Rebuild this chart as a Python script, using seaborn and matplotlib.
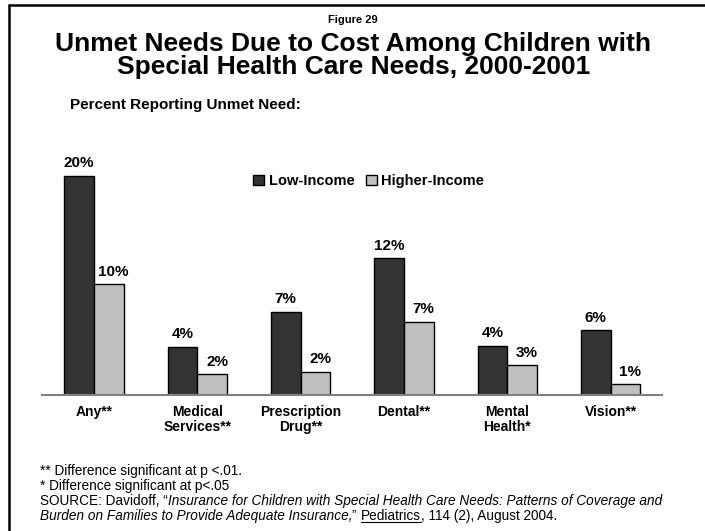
import pandas as pd
import seaborn as sns
import matplotlib.pyplot as plt
from matplotlib.lines import Line2D

# values; labels are what the chart prints
categories = ["Any**", "Medical\nServices**", "Prescription\nDrug**", "Dental**", "Mental\nHealth*", "Vision**"]
low_income = [20.0, 4.4, 7.6, 12.5, 4.5, 5.9]
higher_income = [10.1, 1.9, 2.1, 6.7, 2.7, 1.0]
low_labels = ["20%", "4%", "7%", "12%", "4%", "6%"]
higher_labels = ["10%", "2%", "2%", "7%", "3%", "1%"]
groups = ["Low-Income", "Higher-Income"]

df = pd.DataFrame({
    "category": categories * 2,
    "value": low_income + higher_income,
    "group": [groups[0]] * len(categories) + [groups[1]] * len(categories),
})

sns.set_style("white")
plt.rcParams["font.family"] = ["Liberation Sans", "DejaVu Sans"]
plt.rcParams["text.color"] = "black"
plt.rcParams["xtick.color"] = "black"
plt.rcParams["xtick.labelcolor"] = "black"

fig = plt.figure(figsize=(7.05, 5.31), dpi=100)
ax = fig.add_axes([0.060, 0.2561, 0.8794, 0.4537])

sns.barplot(data=df, x="category", y="value", hue="group",
            palette=["#333333", "#C0C0C0"], width=0.575,
            edgecolor="black", linewidth=1, ax=ax, legend=True)

ax.set_xlim(-0.5, len(categories) - 0.5)
ax.set_ylim(0, 22)
ax.set_xlabel("")
ax.set_ylabel("")
ax.set_yticks([])
for s in ["top", "right", "left"]:
    ax.spines[s].set_visible(False)
ax.spines["bottom"].set_color("#808080")
ax.spines["bottom"].set_linewidth(1.5)
ax.tick_params(axis="x", length=0, pad=7)
for t in ax.get_xticklabels():
    t.set_fontweight("bold")
    t.set_fontsize(10)
    t.set_color("black")
    t.set_linespacing(1.1)

# value labels
for cont, labels, dx in zip(ax.containers, [low_labels, higher_labels], [0, 3.5]):
    for bar, lab in zip(cont, labels):
        ax.annotate(lab, (bar.get_x() + bar.get_width() / 2, bar.get_height()),
                    xytext=(dx, 4), textcoords="offset points",
                    ha="center", va="bottom", fontsize=11, fontweight="bold")

# legend
handles, _ = ax.get_legend_handles_labels()
ax.get_legend().remove()
fig.legend(handles, groups, loc="center", bbox_to_anchor=(0.523, 0.659),
           ncol=2, frameon=False, handlelength=0.75, handleheight=0.75,
           handletextpad=0.3, columnspacing=0.8,
           prop={"weight": "bold", "size": 10.5})

# titles
fig.text(0.501, 1 - 23 / 531, "Figure 29", ha="center", va="baseline",
         fontsize=8, fontweight="bold")
fig.text(0.501, 1 - 50.7 / 531, "Unmet Needs Due to Cost Among Children with",
         ha="center", va="baseline", fontsize=19, fontweight="bold")
fig.text(0.501, 1 - 74 / 531, "Special Health Care Needs, 2000-2001",
         ha="center", va="baseline", fontsize=19, fontweight="bold")
fig.text(70 / 705, 1 - 109.3 / 531, "Percent Reporting Unmet Need:",
         ha="left", va="baseline", fontsize=11, fontweight="bold")

# footnotes
fs = 9.8
x0 = 40 / 705
fig.text(x0, 1 - 475 / 531, "** Difference significant at p <.01.", fontsize=fs, va="baseline")
fig.text(x0, 1 - 490 / 531, "* Difference significant at p<.05", fontsize=fs, va="baseline")
src1 = fig.text(x0, 1 - 505 / 531, "SOURCE: Davidoff, \u201c", fontsize=fs, va="baseline")
fig.canvas.draw()
r = fig.canvas.get_renderer()
bb = src1.get_window_extent(r)
fig.text(bb.x1 / 705, 1 - 505 / 531,
         "Insurance for Children with Special Health Care Needs: Patterns of Coverage and",
         fontsize=fs, va="baseline", style="italic")
b2 = fig.text(x0, 1 - 520 / 531,
              "Burden on Families to Provide Adequate Insurance,",
              fontsize=fs, va="baseline", style="italic")
bb2 = b2.get_window_extent(r)
t3 = fig.text(bb2.x1 / 705, 1 - 520 / 531, "\u201d ", fontsize=fs, va="baseline")
bb3 = t3.get_window_extent(r)
t4 = fig.text(bb3.x1 / 705, 1 - 520 / 531, "Pediatrics", fontsize=fs, va="baseline")
bb4 = t4.get_window_extent(r)
fig.add_artist(Line2D([bb4.x0 / 705, bb4.x1 / 705], [1 - 521.5 / 531] * 2,
                      color="black", linewidth=0.8))
fig.text(bb4.x1 / 705, 1 - 520 / 531, ", 114 (2), August 2004.", fontsize=fs, va="baseline")

# slide frame (left and top edges)
fig.add_artist(Line2D([9 / 705, 9 / 705], [0, 1 - 4.5 / 531], color="black", linewidth=1.8))
fig.add_artist(Line2D([9 / 705, 1], [1 - 4.5 / 531] * 2, color="black", linewidth=1.8))

fig.savefig("out.png", dpi=100)
